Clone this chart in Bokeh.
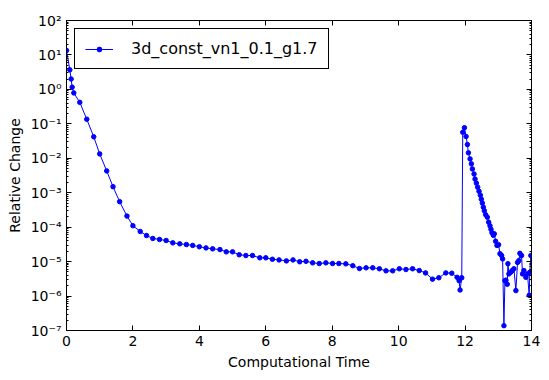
from bokeh.plotting import figure
from bokeh.models import (Range1d, FixedTicker, LinearAxis, LogAxis, Legend, LegendItem,
                          CustomJSTickFormatter, ColumnDataSource)
from bokeh.embed import file_html
from bokeh.resources import INLINE

series_name = "3d_const_vn1_0.1_g1.7"

time = [0.0, 0.1, 0.14, 0.17, 0.22, 0.4, 0.61, 0.82, 1.0, 1.21, 1.4, 1.6, 1.82, 2.0,
        2.22, 2.41, 2.6, 2.8, 3.0, 3.2, 3.41, 3.61, 3.8, 4.0, 4.2, 4.4, 4.62, 4.81, 5.0,
        5.2, 5.4, 5.6, 5.82, 6.0, 6.2, 6.4, 6.62, 6.82, 7.02, 7.21, 7.41, 7.61, 7.81, 8.01,
        8.2, 8.41, 8.62, 8.82, 9.02, 9.22, 9.42, 9.62, 9.82, 10.02, 10.22, 10.42, 10.62,
        10.81, 11.02, 11.21, 11.42, 11.6, 11.76, 11.82, 11.85, 11.9,
        11.93, 11.98, 12.03, 12.07, 12.1, 12.15, 12.19, 12.22, 12.27, 12.3, 12.34, 12.38,
        12.42, 12.46, 12.49, 12.52, 12.55, 12.58, 12.62, 12.67, 12.71, 12.75, 12.78, 12.81,
        12.85, 12.88, 12.92, 12.96, 13.01, 13.05, 13.1, 13.13,
        13.17, 13.2, 13.23, 13.27, 13.29, 13.32, 13.37, 13.42, 13.47, 13.53, 13.58, 13.62,
        13.65, 13.7, 13.73, 13.77, 13.83, 13.88, 13.93, 13.95, 13.98]

rel_change = [13.5, 3.7, 2.0, 1.16, 0.79, 0.42, 0.136, 0.042, 0.0134, 0.0043, 0.0015,
              5.5e-4, 2.1e-4, 1.1e-4,
              7.5e-5, 5.7e-5, 4.7e-5, 4.4e-5, 4.1e-5, 3.5e-5, 3.28e-5, 3.13e-5, 2.95e-5,
              2.7e-5, 2.5e-5, 2.35e-5, 2.24e-5, 1.92e-5, 1.92e-5,
              1.58e-5, 1.5e-5, 1.5e-5, 1.29e-5, 1.29e-5, 1.17e-5, 1.12e-5, 1.05e-5, 1.12e-5,
              9.9e-6, 1.02e-5, 9.2e-6, 8.8e-6, 9.2e-6, 8.8e-6,
              8.8e-6, 8.6e-6, 7.6e-6, 6.3e-6, 6.6e-6, 6.6e-6, 6.2e-6, 5.4e-6, 5.4e-6, 6.2e-6,
              5.9e-6, 6.2e-6, 5.5e-6,
              4.7e-6, 3.1e-6, 3.4e-6, 4.7e-6, 4.6e-6, 3.5e-6, 2.8e-6, 1.5e-6, 3.4e-6,
              0.057, 0.077, 0.043, 0.025, 0.0144, 0.0096, 0.0069, 0.0049, 0.0035, 0.0025,
              0.0019, 0.00145,
              0.0011, 8.5e-4, 6.5e-4, 5.0e-4, 3.8e-4, 3.0e-4, 2.3e-4, 1.95e-4, 1.4e-4, 1.1e-4,
              8.7e-5, 6.9e-5,
              5.8e-5, 6.4e-5, 3.9e-5, 2.95e-5, 3.1e-5, 1.7e-5, 1.5e-5, 1.2e-5,
              1.38e-7, 2.8e-6, 2.9e-6, 2.2e-6, 8.7e-6, 4.4e-6, 4.9e-6, 5.5e-6, 6.2e-6, 1.44e-6,
              9.5e-6, 1.07e-5,
              1.74e-5, 1.5e-5, 4.4e-6, 5.5e-6, 3.5e-6, 4.4e-6, 1.05e-6, 4.9e-6, 1.5e-5]

x_ticks = [0, 2, 4, 6, 8, 10, 12, 14]
y_ticks = [1e-7, 1e-6, 1e-5, 1e-4, 1e-3, 1e-2, 1e-1, 1e0, 1e1, 1e2]
y_tick_labels = ["10⁻⁷", "10⁻⁶", "10⁻⁵", "10⁻⁴", "10⁻³", "10⁻²", "10⁻¹", "10⁰", "10¹", "10²"]
y_minor = [m * d for d in y_ticks[:-1] for m in range(2, 10)]

FONT = "DejaVu Sans"

p = figure(frame_width=465, frame_height=310, y_axis_type="log",
           x_range=Range1d(0, 14), y_range=Range1d(1e-7, 1e2),
           output_backend="svg", toolbar_location=None,
           min_border_left=66, min_border_right=14, min_border_top=20, min_border_bottom=40)
p.xgrid.visible = False
p.ygrid.visible = False
p.outline_line_color = "black"
p.outline_line_width = 1
p.background_fill_color = "white"
p.border_fill_color = "white"

src = ColumnDataSource(dict(t=time, v=rel_change))
ln = p.line("t", "v", source=src, line_color="#0000ff", line_width=1.0)
sc = p.scatter("t", "v", source=src, size=4.5, fill_color="#0000ff", line_color="#0000ff")

yfmt = CustomJSTickFormatter(args=dict(tvals=y_ticks, tlabels=y_tick_labels), code="""
let best = 0, bd = Infinity;
for (let i = 0; i < tvals.length; i++) {
  const d = Math.abs(Math.log10(tvals[i]) - Math.log10(tick));
  if (d < bd) { bd = d; best = i; }
}
return tlabels[best];
""")
empty = CustomJSTickFormatter(code="return '';")

xticker = FixedTicker(ticks=x_ticks)
yticker = FixedTicker(ticks=y_ticks, minor_ticks=y_minor)

def style(ax):
    ax.axis_line_color = "black"
    ax.major_tick_line_color = "black"
    ax.minor_tick_line_color = "black"
    ax.major_tick_in = 5
    ax.major_tick_out = 0
    ax.minor_tick_in = 2
    ax.minor_tick_out = 0
    ax.major_label_text_font = FONT
    ax.major_label_text_font_size = "14px"
    ax.major_label_text_color = "black"
    ax.axis_label_text_font = FONT
    ax.axis_label_text_font_size = "14px"
    ax.axis_label_text_font_style = "normal"
    ax.axis_label_text_color = "black"

xa = p.xaxis[0]
xa.ticker = xticker
xa.axis_label = "Computational Time"
style(xa)
xa.major_label_standoff = 5
xa.axis_label_standoff = 5

ya = p.yaxis[0]
ya.ticker = yticker
ya.formatter = yfmt
ya.axis_label = "Relative Change"
style(ya)
ya.major_label_standoff = 5
ya.axis_label_standoff = 5

top = LinearAxis(ticker=xticker, formatter=empty)
style(top)
top.major_label_standoff = 0
p.add_layout(top, "above")
right = LogAxis(ticker=yticker, formatter=empty)
style(right)
right.major_label_standoff = 0
p.add_layout(right, "right")

legend = Legend(items=[LegendItem(label=series_name, renderers=[ln, sc])],
                location="top_left", margin=8, padding=10, border_line_color="black",
                border_line_alpha=1.0, border_line_width=1,
                label_text_font=FONT, label_text_font_size="16px", label_text_color="black",
                glyph_width=28, glyph_height=12, label_height=12, label_standoff=18,
                background_fill_alpha=1.0)
p.add_layout(legend)

open("out.html", "w").write(file_html(p, INLINE))
